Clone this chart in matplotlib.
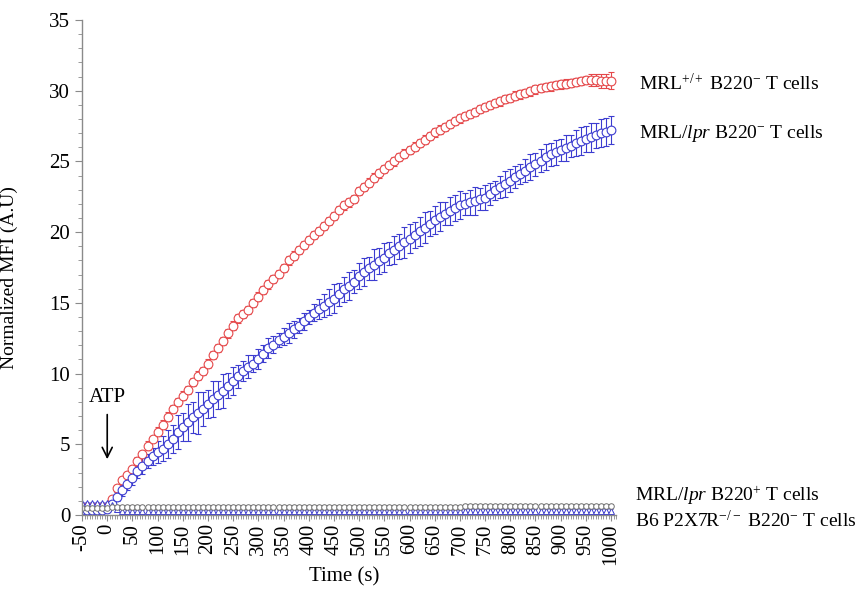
import numpy as np
import matplotlib
matplotlib.use("Agg")
import matplotlib.pyplot as plt
from matplotlib.ticker import MultipleLocator

plt.rcParams['font.family'] = ['Liberation Serif', 'DejaVu Serif']
plt.rcParams['mathtext.fontset'] = 'custom'
plt.rcParams['mathtext.rm'] = 'Liberation Serif'
plt.rcParams['mathtext.it'] = 'Liberation Serif:italic'
plt.rcParams['axes.unicode_minus'] = False

# sampling times (s)
time = np.arange(-50, 1001, 10)

mrl_wt_b220neg = [0.6, 0.6, 0.6, 0.6, 0.6, 0.6,
    1.1, 1.9, 2.5, 2.85, 3.25, 3.8, 4.3, 4.9, 5.4, 5.9,
    6.4, 6.95, 7.5, 8.0, 8.45, 8.85, 9.4, 9.85, 10.2, 10.7,
    11.3, 11.8, 12.3, 12.85, 13.4, 13.9, 14.2, 14.5, 15.0, 15.45,
    15.9, 16.3, 16.7, 17.05, 17.45, 18.0, 18.35, 18.75, 19.1, 19.45,
    19.8, 20.1, 20.45, 20.8, 21.15, 21.55, 21.9, 22.1, 22.35, 22.9,
    23.2, 23.5, 23.85, 24.15, 24.45, 24.75, 25.0, 25.3, 25.55, 25.8,
    26.05, 26.3, 26.55, 26.8, 27.05, 27.25, 27.45, 27.65, 27.85, 28.05,
    28.2, 28.35, 28.5, 28.7, 28.85, 29.0, 29.15, 29.25, 29.4, 29.5,
    29.65, 29.75, 29.85, 29.95, 30.1, 30.2, 30.25, 30.3, 30.4, 30.45,
    30.5, 30.55, 30.6, 30.7, 30.75, 30.75, 30.75, 30.7, 30.7, 30.7]
mrl_wt_b220neg_err = [0.1, 0.1, 0.1, 0.1, 0.1, 0.1,
    0.2, 0.2, 0.2, 0.2, 0.2, 0.3, 0.2, 0.3, 0.2, 0.3,
    0.3, 0.3, 0.3, 0.3, 0.3, 0.3, 0.3, 0.3, 0.3, 0.3,
    0.3, 0.3, 0.3, 0.3, 0.3, 0.3, 0.3, 0.3, 0.3, 0.3,
    0.3, 0.3, 0.3, 0.3, 0.3, 0.3, 0.3, 0.3, 0.3, 0.3,
    0.3, 0.3, 0.3, 0.3, 0.3, 0.3, 0.3, 0.3, 0.3, 0.3,
    0.3, 0.3, 0.3, 0.3, 0.3, 0.3, 0.3, 0.3, 0.3, 0.3,
    0.3, 0.3, 0.3, 0.3, 0.3, 0.3, 0.3, 0.3, 0.3, 0.3,
    0.3, 0.3, 0.3, 0.3, 0.3, 0.3, 0.3, 0.3, 0.3, 0.3,
    0.3, 0.3, 0.3, 0.3, 0.3, 0.3, 0.3, 0.3, 0.3, 0.3,
    0.3, 0.3, 0.3, 0.3, 0.3, 0.4, 0.4, 0.5, 0.5, 0.6]

lpr_b220neg = [0.35, 0.35, 0.35, 0.35, 0.35, 0.4,
    0.8, 1.3, 1.75, 2.2, 2.65, 3.1, 3.5, 3.8, 4.15, 4.45,
    4.7, 5.0, 5.4, 5.85, 6.2, 6.55, 6.9, 7.2, 7.5, 7.85,
    8.2, 8.5, 8.8, 9.15, 9.5, 9.8, 10.2, 10.5, 10.7, 11.05,
    11.4, 11.8, 12.05, 12.35, 12.6, 12.85, 13.15, 13.4, 13.7, 14.0,
    14.3, 14.55, 14.8, 15.05, 15.3, 15.6, 15.95, 16.2, 16.5, 16.9,
    17.2, 17.45, 17.7, 17.95, 18.2, 18.5, 18.75, 19.0, 19.3, 19.55,
    19.8, 20.05, 20.3, 20.6, 20.85, 21.1, 21.3, 21.5, 21.7, 21.9,
    22.0, 22.1, 22.2, 22.35, 22.45, 22.7, 22.95, 23.2, 23.4, 23.65,
    23.9, 24.1, 24.35, 24.6, 24.8, 25.05, 25.3, 25.5, 25.65, 25.8,
    25.95, 26.1, 26.3, 26.45, 26.6, 26.7, 26.85, 27.0, 27.1, 27.2]
lpr_b220neg_err = [0.1, 0.1, 0.1, 0.1, 0.1, 0.1,
    0.3, 0.3, 0.4, 0.4, 0.5, 0.5, 0.6, 0.5, 0.6, 0.8,
    0.9, 1.0, 1.0, 1.2, 1.0, 1.3, 1.1, 1.5, 1.2, 1.0,
    1.3, 1.0, 1.2, 0.9, 1.0, 0.8, 0.7, 0.8, 0.6, 0.7,
    0.6, 0.7, 0.6, 0.5, 0.6, 0.7, 0.6, 0.5, 0.6, 0.5,
    0.6, 0.7, 0.8, 0.9, 1.0, 0.8, 0.9, 1.0, 0.8, 0.9,
    1.0, 0.8, 1.1, 0.9, 1.0, 0.8, 1.0, 0.9, 1.1, 1.0,
    0.9, 1.0, 1.1, 0.9, 1.0, 1.0, 0.8, 1.0, 0.9, 1.0,
    0.8, 0.9, 1.0, 0.8, 0.9, 0.8, 0.7, 0.8, 0.9, 0.8,
    0.8, 0.7, 0.8, 0.9, 0.8, 0.8, 0.9, 0.8, 0.9, 0.8,
    0.9, 0.8, 0.9, 1.0, 0.9, 1.0, 0.9, 1.0, 1.0, 1.0]

lpr_b220pos = [0.5, 0.5, 0.5, 0.5, 0.5, 0.5,
    0.55, 0.6, 0.6, 0.6, 0.6, 0.6, 0.6, 0.6, 0.6, 0.6,
    0.6, 0.6, 0.6, 0.6, 0.6, 0.6, 0.6, 0.6, 0.6, 0.6,
    0.6, 0.6, 0.6, 0.6, 0.6, 0.6, 0.6, 0.6, 0.6, 0.6,
    0.6, 0.6, 0.6, 0.6, 0.6, 0.6, 0.6, 0.6, 0.6, 0.6,
    0.6, 0.6, 0.6, 0.6, 0.6, 0.6, 0.6, 0.6, 0.6, 0.6,
    0.6, 0.6, 0.6, 0.6, 0.6, 0.6, 0.6, 0.6, 0.6, 0.6,
    0.6, 0.6, 0.6, 0.6, 0.6, 0.6, 0.6, 0.6, 0.6, 0.6,
    0.65, 0.65, 0.65, 0.65, 0.65, 0.65, 0.65, 0.65, 0.65, 0.65,
    0.65, 0.65, 0.65, 0.65, 0.65, 0.65, 0.65, 0.65, 0.65, 0.65,
    0.65, 0.65, 0.65, 0.65, 0.65, 0.65, 0.65, 0.65, 0.65, 0.65]

b6_p2x7r_ko = [0.85, 0.85, 0.85, 0.85, 0.85, 0.85,
    0.7, 0.45, 0.3, 0.25, 0.25, 0.25, 0.25, 0.25, 0.25, 0.25,
    0.25, 0.25, 0.25, 0.25, 0.25, 0.25, 0.25, 0.25, 0.25, 0.25,
    0.25, 0.25, 0.25, 0.25, 0.25, 0.25, 0.25, 0.25, 0.25, 0.25,
    0.25, 0.25, 0.25, 0.25, 0.25, 0.25, 0.25, 0.25, 0.25, 0.25,
    0.25, 0.25, 0.25, 0.25, 0.25, 0.25, 0.25, 0.25, 0.25, 0.25,
    0.25, 0.25, 0.25, 0.25, 0.25, 0.25, 0.25, 0.25, 0.25, 0.25,
    0.25, 0.25, 0.25, 0.25, 0.25, 0.25, 0.25, 0.25, 0.25, 0.25,
    0.3, 0.3, 0.3, 0.3, 0.3, 0.3, 0.3, 0.3, 0.3, 0.3,
    0.3, 0.3, 0.3, 0.3, 0.3, 0.3, 0.3, 0.3, 0.3, 0.3,
    0.3, 0.3, 0.3, 0.3, 0.3, 0.3, 0.3, 0.3, 0.3, 0.3]
flat_err = [0.1] * len(time)

labels = ["MRL$^{+/+}$ B220$^{-}$ T cells",
          "MRL/$\\mathit{lpr}$ B220$^{-}$ T cells",
          "MRL/$\\mathit{lpr}$ B220$^{+}$ T cells",
          "B6 P2X7R$^{-/-}$ B220$^{-}$ T cells"]

red = "#E5484A"
blue = "#3C3CD0"
grey = "#707070"

fig = plt.figure(figsize=(8.59, 5.89), dpi=100)
ax = fig.add_axes([0.0955, 0.1256, 0.6217, 0.8404])

common = dict(fmt='o', markersize=6.3, markerfacecolor='white', markeredgewidth=0.8,
              elinewidth=0.8, capsize=2.5, capthick=0.8)
ax.errorbar(time, mrl_wt_b220neg, yerr=mrl_wt_b220neg_err, color=red, ecolor=red, **common)
ax.errorbar(time, lpr_b220neg, yerr=lpr_b220neg_err, color=blue, ecolor=blue, **common)
ax.errorbar(time, b6_p2x7r_ko, yerr=flat_err, fmt='^', markersize=5, markerfacecolor='white',
            markeredgewidth=0.7, color=blue, ecolor=blue, elinewidth=0.6, capsize=1.5)
ax.errorbar(time, lpr_b220pos, yerr=flat_err, fmt='o', markersize=4, markerfacecolor='white',
            markeredgewidth=0.7, color=grey, ecolor=grey, elinewidth=0.6, capsize=1.5)

ax.set_xlim(-50, 1010)
ax.set_ylim(0, 35)
ax.xaxis.set_major_locator(MultipleLocator(50))
ax.xaxis.set_minor_locator(MultipleLocator(5))
ax.yaxis.set_major_locator(MultipleLocator(5))
ax.yaxis.set_minor_locator(MultipleLocator(1))
for s in ['top', 'right']:
    ax.spines[s].set_visible(False)
for s in ['left', 'bottom']:
    ax.spines[s].set_color('#8a8a8a')
    ax.spines[s].set_linewidth(1.0)
ax.tick_params(axis='both', which='both', colors='#8a8a8a', labelcolor='black', labelsize=15)
ax.tick_params(axis='y', which='major', length=5)
ax.tick_params(axis='y', which='minor', length=3)
ax.tick_params(axis='x', which='major', length=4, labelrotation=90, pad=2)
ax.tick_params(axis='x', which='minor', length=3)

ax.set_ylabel("Normalized MFI (A.U)", fontsize=14)
ax.yaxis.set_label_coords(-0.12, 0.48)
ax.set_xlabel("Time (s)", fontsize=15)
ax.xaxis.set_label_coords(0.49, -0.105)

ax.annotate("", xy=(0, 3.75), xytext=(0, 7.3),
            arrowprops=dict(arrowstyle='->', color='black', lw=1.2, mutation_scale=18))
ax.text(0, 8.3, "ATP", ha='center', va='center', fontsize=15)

lab_x = [1055, 1055, 1047, 1047]
lab_y = [30.5, 27.0, 1.4, -0.4]
for lx, ly, lb in zip(lab_x, lab_y, labels):
    ax.text(lx, ly, lb, ha='left', va='center', fontsize=14, clip_on=False)

fig.savefig("out.png", dpi=100)
